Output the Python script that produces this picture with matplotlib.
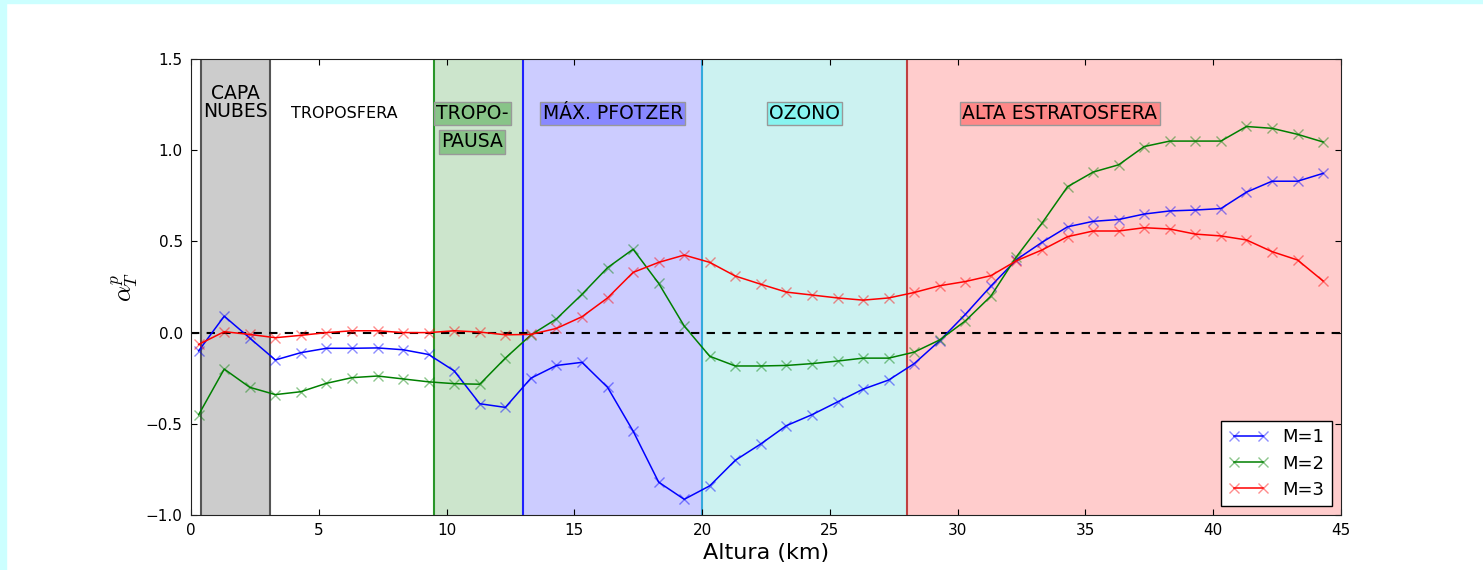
import matplotlib
matplotlib.use("Agg")
import matplotlib.pyplot as plt
from matplotlib.patches import Rectangle

plt.rcParams["mathtext.fontset"] = "cm"

# alturas (km) de cada punto
altura = [0.3, 1.3, 2.3, 3.3, 4.3, 5.3, 6.3, 7.3, 8.3, 9.3,
          10.3, 11.3, 12.3, 13.3, 14.3, 15.3, 16.3, 17.3, 18.3, 19.3,
          20.3, 21.3, 22.3, 23.3, 24.3, 25.3, 26.3, 27.3, 28.3, 29.3,
          30.3, 31.3, 32.3, 33.3, 34.3, 35.3, 36.3, 37.3, 38.3, 39.3,
          40.3, 41.3, 42.3, 43.3, 44.3]

m1 = [-0.10, 0.09, -0.03, -0.15, -0.11, -0.086, -0.086, -0.084, -0.094, -0.12,
      -0.21, -0.39, -0.41, -0.25, -0.18, -0.163, -0.30, -0.54, -0.82, -0.914,
      -0.84, -0.70, -0.61, -0.51, -0.45, -0.38, -0.31, -0.26, -0.17, -0.044,
      0.10, 0.255, 0.40, 0.495, 0.58, 0.61, 0.62, 0.65, 0.667, 0.672,
      0.68, 0.77, 0.83, 0.83, 0.873]

m2 = [-0.45, -0.20, -0.30, -0.34, -0.324, -0.278, -0.247, -0.238, -0.254, -0.27,
      -0.28, -0.283, -0.14, -0.013, 0.075, 0.21, 0.356, 0.457, 0.27, 0.036,
      -0.13, -0.183, -0.183, -0.18, -0.17, -0.156, -0.14, -0.14, -0.107, -0.04,
      0.064, 0.20, 0.416, 0.60, 0.80, 0.88, 0.92, 1.02, 1.05, 1.05,
      1.05, 1.13, 1.12, 1.087, 1.045]

m3 = [-0.065, 0.005, -0.01, -0.028, -0.015, 0.0, 0.01, 0.01, 0.0, 0.0,
      0.01, 0.003, -0.012, -0.01, 0.023, 0.087, 0.19, 0.33, 0.385, 0.425,
      0.385, 0.31, 0.265, 0.222, 0.206, 0.19, 0.178, 0.19, 0.22, 0.257,
      0.28, 0.312, 0.394, 0.453, 0.526, 0.557, 0.557, 0.575, 0.568, 0.54,
      0.53, 0.508, 0.444, 0.398, 0.283]

# capas atmosfericas: (inicio, fin, color relleno)
capas = [(0.4, 3.1, "#cccccc"),
         (9.5, 13.0, "#cce5cc"),
         (13.0, 20.0, "#ccccff"),
         (20.0, 28.0, "#ccf2f1"),
         (28.0, 45.0, "#ffcccc")]
# lineas de borde: (x, color)
bordes = [(0.4, "#555555"), (3.1, "#555555"), (9.5, "#2a962a"),
          (13.0, "#2020ff"), (20.0, "#33aadd"), (28.0, "#c04040")]

fig = plt.figure(figsize=(14.83, 5.70), dpi=100, facecolor="white")
# marco cian de la diapositiva
fig.patches.append(Rectangle((0, 0), 6 / 1483, 1, transform=fig.transFigure,
                             color="#ccffff", zorder=0))
fig.patches.append(Rectangle((0, 1 - 3 / 570), 1, 3 / 570, transform=fig.transFigure,
                             color="#ccffff", zorder=0))

ax = fig.add_axes([191 / 1483, 55 / 570, 1150 / 1483, 456 / 570])

for x0, x1, c in capas:
    ax.axvspan(x0, x1, facecolor=c, edgecolor="none", zorder=0)
for x, c in bordes:
    ax.axvline(x, color=c, lw=1.5, zorder=1)

ax.axhline(0, color="k", ls="--", lw=1.5, dashes=(4, 3.5), zorder=2)

ax.plot(altura, m1, color="b", lw=1.1, marker="x", ms=7, mew=1,
        mec=(0, 0, 1, 0.45), label="M=1", zorder=3)
ax.plot(altura, m2, color="g", lw=1.1, marker="x", ms=7, mew=1,
        mec=(0, 0.5, 0, 0.45), label="M=2", zorder=3)
ax.plot(altura, m3, color="r", lw=1.1, marker="x", ms=7, mew=1,
        mec=(1, 0, 0, 0.45), label="M=3", zorder=3)

caja = dict(boxstyle="square,pad=0.12", edgecolor="#999999", lw=1)
ax.text(1.75, 1.26, "CAPA\nNUBES", ha="center", va="center", fontsize=13.5,
        linespacing=0.95)
ax.text(6.0, 1.20, "TROPOSFERA", ha="center", va="center", fontsize=11.5)
ax.text(11.0, 1.20, "TROPO-", ha="center", va="center", fontsize=13.5,
        bbox=dict(caja, facecolor="#88c488"))
ax.text(11.0, 1.045, "PAUSA", ha="center", va="center", fontsize=13.5,
        bbox=dict(caja, facecolor="#88c488"))
ax.text(16.5, 1.20, "MÁX. PFOTZER", ha="center", va="center", fontsize=13.5,
        bbox=dict(caja, facecolor="#8888ff"))
ax.text(24.0, 1.20, "OZONO", ha="center", va="center", fontsize=13.5,
        bbox=dict(caja, facecolor="#88f4f0"))
ax.text(34.0, 1.20, "ALTA ESTRATOSFERA", ha="center", va="center", fontsize=13.5,
        bbox=dict(caja, facecolor="#ff8888"))

ax.set_xlim(0, 45)
ax.set_ylim(-1.0, 1.5)
ax.set_yticks([-1.0, -0.5, 0.0, 0.5, 1.0, 1.5])
ax.tick_params(direction="in", top=True, right=True, length=4, labelsize=11,
               pad=6)
ax.set_xlabel("Altura (km)", fontsize=16, labelpad=3)
ax.set_ylabel(r"$\alpha_T^p$", fontsize=18, labelpad=4)
for s in ax.spines.values():
    s.set_color("#222222")

leg = ax.legend(loc="lower right", fontsize=13, numpoints=2, fancybox=False,
                framealpha=1, edgecolor="k", borderaxespad=0.5,
                handlelength=2.2, labelspacing=0.45)
leg.get_frame().set_linewidth(1)

fig.savefig("out.png", dpi=100, facecolor="white")
